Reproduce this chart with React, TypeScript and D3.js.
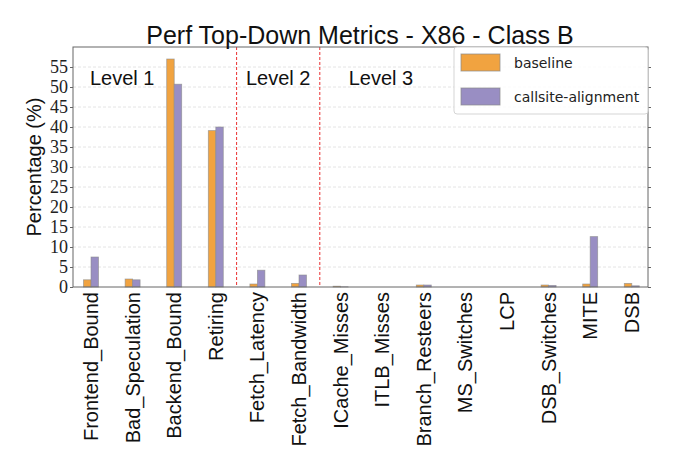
import React, { useEffect, useRef } from 'react';
import * as d3 from 'd3';

const categories = [
  'Frontend_Bound', 'Bad_Speculation', 'Backend_Bound', 'Retiring',
  'Fetch_Latency', 'Fetch_Bandwidth',
  'ICache_Misses', 'ITLB_Misses', 'Branch_Resteers', 'MS_Switches', 'LCP',
  'DSB_Switches', 'MITE', 'DSB',
];
const baseline = [1.8, 2.0, 57.0, 39.1, 0.75, 0.9, 0.2, 0, 0.5, 0, 0, 0.5, 0.75, 0.9];
const callsite = [7.5, 1.8, 50.7, 40.0, 4.2, 3.0, 0.05, 0, 0.5, 0, 0, 0.4, 12.6, 0.3];
const yTicks = [0, 5, 10, 15, 20, 25, 30, 35, 40, 45, 50, 55];
const levelLabels = ['Level 1', 'Level 2', 'Level 3'];
const levelPos = [0.75, 4.5, 6.97];
const dividers = [3.5, 5.5];
const seriesNames = ['baseline', 'callsite-alignment'];
const colors = ['#f1a340', '#998ec3'];

const W = 674;
const H = 472;
const margin = { top: 47, right: 26, bottom: 185, left: 73 };
const sans = "'Liberation Sans', 'DejaVu Sans', sans-serif";
const serif = "'Liberation Serif', 'DejaVu Serif', serif";

const App: React.FC = () => {
  const svgRef = useRef<SVGSVGElement | null>(null);

  useEffect(() => {
    if (!svgRef.current) return;
    const svg = d3.select(svgRef.current);
    svg.selectAll('*').remove();

    const x0 = margin.left;
    const x1 = W - margin.right;
    const y0 = H - margin.bottom;
    const y1 = margin.top;

    const x = d3.scaleLinear().domain([-0.433, 13.39]).range([x0, x1]);
    const y = d3.scaleLinear().domain([0, 60]).range([y0, y1]);
    const bw = 0.18;

    // grid
    svg.append('g')
      .selectAll('line')
      .data(yTicks.slice(1))
      .enter()
      .append('line')
      .attr('x1', x0).attr('x2', x1)
      .attr('y1', (d) => y(d)).attr('y2', (d) => y(d))
      .attr('stroke', '#dddddd')
      .attr('stroke-width', 0.8)
      .attr('stroke-dasharray', '3,2');

    // bars
    const series = [baseline, callsite];
    series.forEach((vals, si) => {
      svg.append('g')
        .selectAll('rect')
        .data(vals)
        .enter()
        .append('rect')
        .attr('x', (_d, i) => x(i + (si === 0 ? -bw : 0)))
        .attr('width', x(bw) - x(0))
        .attr('y', (d) => y(d))
        .attr('height', (d) => y0 - y(d))
        .attr('fill', colors[si])
        .attr('stroke', '#8a8a8a')
        .attr('stroke-opacity', 0.7)
        .attr('stroke-width', 0.8);
    });

    // dividers
    svg.append('g')
      .selectAll('line')
      .data(dividers)
      .enter()
      .append('line')
      .attr('x1', (d) => x(d)).attr('x2', (d) => x(d))
      .attr('y1', y1).attr('y2', y0)
      .attr('stroke', '#e8191a')
      .attr('stroke-width', 0.9)
      .attr('stroke-dasharray', '3,2');

    // level labels
    svg.append('g')
      .selectAll('text')
      .data(levelLabels)
      .enter()
      .append('text')
      .attr('x', (_d, i) => x(levelPos[i]))
      .attr('y', y(50.5))
      .attr('text-anchor', 'middle')
      .attr('font-family', sans)
      .attr('font-size', 20)
      .attr('fill', '#111')
      .text((d) => d);

    // frame
    svg.append('rect')
      .attr('x', x0).attr('y', y1)
      .attr('width', x1 - x0).attr('height', y0 - y1)
      .attr('fill', 'none')
      .attr('stroke', '#666')
      .attr('stroke-width', 1);

    // y axis
    const yAxis = svg.append('g')
      .attr('transform', `translate(${x0},0)`)
      .call(d3.axisLeft(y).tickValues(yTicks).tickSize(3).tickSizeOuter(0).tickPadding(2));
    yAxis.select('.domain').remove();
    yAxis.selectAll('.tick line').attr('stroke', '#666');
    yAxis.selectAll('text')
      .attr('font-family', serif)
      .attr('font-size', 18)
      .attr('fill', '#222');

    // right side ticks
    svg.append('g')
      .attr('transform', `translate(${x1},0)`)
      .call(d3.axisLeft(y).tickValues(yTicks).tickSize(3).tickFormat(() => ''))
      .call((g) => g.select('.domain').remove())
      .selectAll('.tick line')
      .attr('transform', 'translate(3,0)')
      .attr('stroke', '#666');

    // x labels
    svg.append('g')
      .selectAll('text')
      .data(categories)
      .enter()
      .append('text')
      .attr('transform', (_d, i) => `translate(${x(i) + 7},${y0 + 5}) rotate(-90)`)
      .attr('text-anchor', 'end')
      .attr('font-family', sans)
      .attr('font-size', 20)
      .attr('fill', '#111')
      .text((d) => d);

    // axis title
    svg.append('text')
      .attr('transform', `translate(41,${(y0 + y1) / 2}) rotate(-90)`)
      .attr('text-anchor', 'middle')
      .attr('font-family', sans)
      .attr('font-size', 20)
      .attr('fill', '#111')
      .text('Percentage (%)');

    // title
    svg.append('text')
      .attr('x', 360)
      .attr('y', 44)
      .attr('text-anchor', 'middle')
      .attr('font-family', sans)
      .attr('font-size', 25)
      .attr('fill', '#111')
      .text('Perf Top-Down Metrics - X86 - Class B');

    // legend
    const lg = svg.append('g').attr('transform', `translate(454,${y1})`);
    lg.append('rect')
      .attr('x', 0).attr('y', 0).attr('width', 194).attr('height', 67)
      .attr('rx', 3)
      .attr('fill', 'white').attr('fill-opacity', 0.85)
      .attr('stroke', '#d5d5d5');
    seriesNames.forEach((name, i) => {
      lg.append('rect')
        .attr('x', 7).attr('y', 7 + i * 34)
        .attr('width', 39).attr('height', 17)
        .attr('fill', colors[i])
        .attr('stroke', '#8a8a8a').attr('stroke-opacity', 0.7);
      lg.append('text')
        .attr('x', 60).attr('y', 21 + i * 34)
        .attr('font-family', "'DejaVu Sans', sans-serif")
        .attr('font-size', 14)
        .attr('fill', '#222')
        .text(name);
    });
  }, []);

  return <svg ref={svgRef} width={W} height={H} style={{ position: 'absolute', left: 0, top: 0, background: 'white' }} />;
};

export default App;
